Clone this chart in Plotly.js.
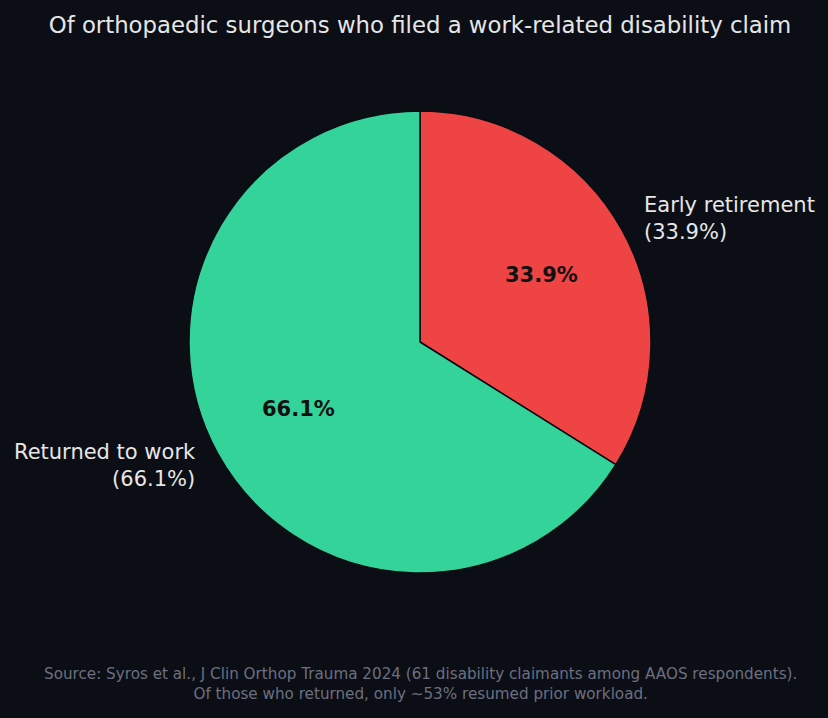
<!DOCTYPE html>
<html>
<head>
<meta charset="utf-8">
<script src="https://cdn.plot.ly/plotly-3.0.1.min.js"></script>
<style>
  html, body { margin: 0; padding: 0; background: #0b0e14; }
  #chart { width: 828px; height: 718px; }
</style>
</head>
<body>
<div id="chart"></div>
<script>
const labels = ["Early retirement", "Returned to work"];
const shares = [33.9, 66.1];
const colors = ["#ef4444", "#34d399"];

const W = 828, H = 718;
const CX = 420, CY = 342, R = 231;
const FONT = "DejaVu Sans";

// label positions like matplotlib: labels at 1.1 r, percents at 0.6 r
const total = shares.reduce((a, b) => a + b, 0);
const annotations = [];
let start = 90;
shares.forEach((v, i) => {
  const sweep = (v / total) * 360;
  const mid = (start - sweep / 2) * Math.PI / 180;
  start -= sweep;
  const cos = Math.cos(mid), sin = Math.sin(mid);
  annotations.push({
    x: (CX + 0.6 * R * cos) / W, y: 1 - (CY - 0.6 * R * sin) / H,
    xref: "paper", yref: "paper", showarrow: false,
    text: "<b>" + v.toFixed(1) + "%</b>",
    font: { family: FONT, size: 21, color: "#111111" },
    xanchor: "center", yanchor: "middle",
  });
  annotations.push({
    x: (CX + 1.1 * R * cos) / W, y: 1 - (CY - 1.1 * R * sin) / H,
    xref: "paper", yref: "paper", showarrow: false,
    text: labels[i] + "<br>(" + v.toFixed(1) + "%)",
    align: cos >= 0 ? "left" : "right",
    font: { family: FONT, size: 21, color: "#e6e6e6" },
    xanchor: cos >= 0 ? "left" : "right", yanchor: "middle",
  });
});

annotations.push({
  x: CX / W, y: 1 - 684 / H, xref: "paper", yref: "paper", showarrow: false,
  text: "Source: Syros et al., J Clin Orthop Trauma 2024 (61 disability claimants among AAOS respondents).<br>Of those who returned, only ~53% resumed prior workload.",
  align: "center",
  font: { family: FONT, size: 15.2, color: "#6b7080" },
  xanchor: "center", yanchor: "middle",
});

Plotly.newPlot(
  "chart",
  [
    {
      type: "pie",
      labels: labels,
      values: shares,
      sort: false,
      direction: "clockwise",
      rotation: 0,
      marker: { colors: colors, line: { color: "#0b0e14", width: 1.5 } },
      textinfo: "none",
      hoverinfo: "label+percent",
      domain: {
        x: [(CX - R) / W, (CX + R) / W],
        y: [1 - (CY + R) / H, 1 - (CY - R) / H],
      },
    },
  ],
  {
    width: W,
    height: H,
    title: {
      text: "Of orthopaedic surgeons who filed a work-related disability claim",
      font: { family: FONT, size: 22.8, color: "#e6e6e6" },
      x: CX / W, xanchor: "center",
      y: 1 - 25 / H, yanchor: "middle",
    },
    showlegend: false,
    annotations: annotations,
    paper_bgcolor: "#0b0e14",
    plot_bgcolor: "#0b0e14",
    margin: { t: 0, l: 0, r: 0, b: 0 },
  },
  { displayModeBar: false }
);
</script>
</body>
</html>
